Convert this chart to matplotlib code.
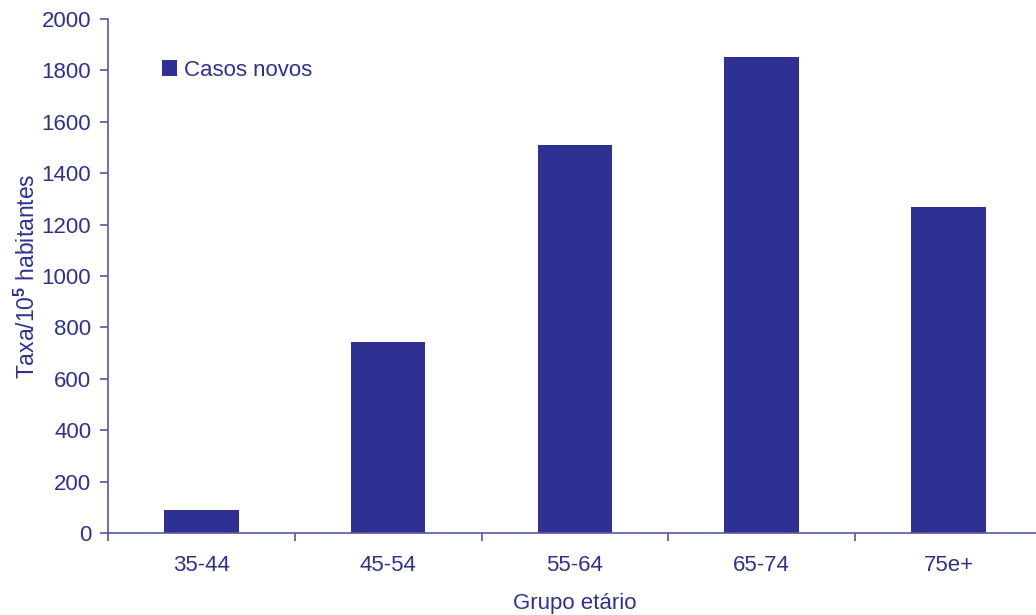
import matplotlib.pyplot as plt
import numpy as np

plt.rcParams['font.family'] = ['Liberation Sans', 'DejaVu Sans']
plt.rcParams['mathtext.fontset'] = 'custom'
plt.rcParams['mathtext.rm'] = 'Liberation Sans'
plt.rcParams['mathtext.bf'] = 'Liberation Sans:bold'

# dados
grupos = ['35-44', '45-54', '55-64', '65-74', '75e+']
casos_novos = [88, 745, 1508, 1851, 1267]

cor_barra = '#2e3192'
cor_texto = '#2e3192'
cor_eixo = '#5558a8'

fig = plt.figure(figsize=(10.36, 6.15), dpi=100)
ax = fig.add_axes([0.1042, 0.1333, 0.9015, 0.8358])

x = np.arange(len(grupos))
ax.bar(x, casos_novos, width=0.4, color=cor_barra, label='Casos novos', zorder=2)

ax.set_xlim(-0.5, len(grupos) - 0.5)
ax.set_ylim(0, 2000)
ax.set_yticks(range(0, 2001, 200))
ax.set_xticks(x)
ax.set_xticklabels(grupos)
ax.set_xticks(np.arange(-0.5, len(grupos) - 0.5, 1.0), minor=True)

ax.tick_params(axis='x', which='major', length=0, pad=16,
               labelsize=16, labelcolor=cor_texto)
ax.tick_params(axis='x', which='minor', direction='out', length=6,
               width=1.2, color=cor_eixo)
ax.tick_params(axis='y', direction='out', length=6, width=1.2,
               color=cor_eixo, labelsize=16, labelcolor=cor_texto, pad=6)

for lado in ['top', 'right']:
    ax.spines[lado].set_visible(False)
for lado in ['left', 'bottom']:
    ax.spines[lado].set_color(cor_eixo)
    ax.spines[lado].set_linewidth(1.2)

ax.set_xlabel('Grupo etário', fontsize=16, color=cor_texto, labelpad=12)
ax.set_ylabel('Taxa/10$^{\\mathbf{5}}$ habitantes', fontsize=16.5,
              color=cor_texto, labelpad=1)

leg = ax.legend(loc='center left', bbox_to_anchor=(0.036, 0.90),
                frameon=False, fontsize=16, handlelength=0.7,
                handleheight=0.7, handletextpad=0.3)
for t in leg.get_texts():
    t.set_color(cor_texto)

fig.savefig('out.png', dpi=100)
